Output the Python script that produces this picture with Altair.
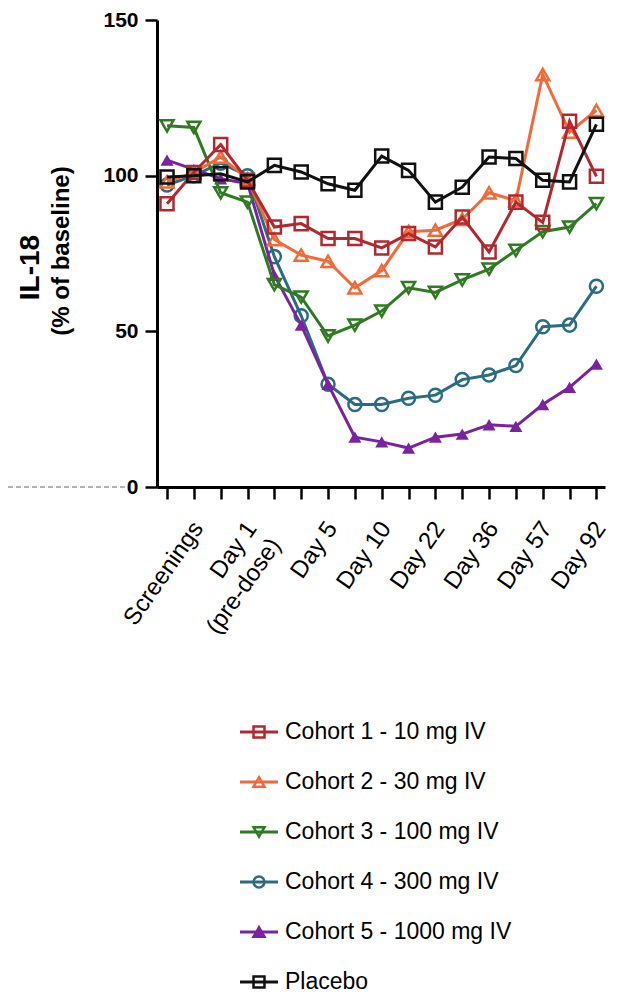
import altair as alt
import pandas as pd

# ---- data ----
timepoints = list(range(1, 18))
series_names = ["Cohort 1 - 10 mg IV", "Cohort 2 - 30 mg IV", "Cohort 3 - 100 mg IV",
                "Cohort 4 - 300 mg IV", "Cohort 5 - 1000 mg IV", "Placebo"]
cohort1 = [91, 101, 110, 98.5, 83.5, 84.6, 79.8, 79.8, 76.8, 81.4, 77.1, 86.7, 75.5, 91.5, 85, 117.5, 99.8]
cohort2 = [98, 101, 106, 99, 79.5, 74.5, 72.5, 64, 69.5, 82, 82.5, 86, 94.5, 92, 132.5, 114, 121]
cohort3 = [116, 115.5, 94.5, 91.5, 65, 61, 48.5, 52, 56.5, 64, 62.5, 66.5, 70, 76, 82, 83.5, 91]
cohort4 = [97, 100, 104, 100, 74, 55, 33, 26.5, 26.5, 28.5, 29.5, 34.5, 36, 39, 51.5, 52, 64.5]
cohort5 = [105, 102, 99, 97.5, 68, 52, 33, 16, 14.5, 12.5, 16, 17, 20, 19.5, 26.5, 32, 39.5]
placebo = [99.6, 100, 100.6, 98, 103.3, 101.2, 97.4, 95.3, 106.3, 101.7, 91.5, 96.3, 106, 105.5, 98.5, 98, 116.5]
all_values = [cohort1, cohort2, cohort3, cohort4, cohort5, placebo]

x_label_ticks = [2, 4, 7, 9, 11, 13, 15, 17]
x_labels = ["Screenings", "Day 1|(pre-dose)", "Day 5", "Day 10", "Day 22", "Day 36", "Day 57", "Day 92"]
y_ticks = [0, 50, 100, 150]

# ---- styles ----
colors = ["#B3272E", "#F26A38", "#2F7B22", "#2A6C84", "#7A22A0", "#111111"]
shapes = ["square", "triangle-up", "triangle-down", "circle", "triangle-up", "square"]
filled = [False, False, False, False, True, False]
fills = ["transparent", "transparent", "transparent", "transparent", "#7A22A0", "transparent"]
draw_order = [3, 4, 2, 1, 0, 5]

W, H = 448, 467
FONT = "Liberation Sans"

rows = []
for name, vals in zip(series_names, all_values):
    for t, v in zip(timepoints, vals):
        rows.append({"series": name, "t": t, "value": v})
df = pd.DataFrame(rows)

label_expr = "''"
for idx, lab in reversed(list(zip(x_label_ticks, x_labels))):
    label_expr = f"datum.value == {idx} ? split('{lab}', '|') : {label_expr}"

x_enc = alt.X("t:Q",
              scale=alt.Scale(domain=[0.627, 17.32], nice=False, zero=False),
              axis=alt.Axis(values=timepoints, labelExpr=label_expr, title=None,
                            labelAngle=-55, labelAlign="right", labelBaseline="middle",
                            labelOffset=4, labelPadding=25, labelOverlap=False,
                            labelFlush=False, labelBound=False, labelFontSize=24,
                            labelFont=FONT, labelLineHeight=29))
y_enc = alt.Y("value:Q",
              scale=alt.Scale(domain=[0, 150], nice=False, zero=True),
              axis=alt.Axis(values=y_ticks, title="IL-18", titleFontSize=28,
                            titleFontWeight="bold", titleFont=FONT, titleX=-127, titleY=247,
                            titleBaseline="middle", titleAngle=270,
                            labelFontSize=21, labelFontWeight="bold", labelFont=FONT,
                            labelPadding=7))

layers = []
for i in draw_order:
    name = series_names[i]
    base = alt.Chart(df).transform_filter(alt.datum.series == name)
    layers.append(base.mark_line(color=colors[i], strokeWidth=3).encode(x=x_enc, y=y_enc))
    layers.append(base.mark_point(shape=shapes[i], filled=filled[i], color=colors[i],
                                  fill=fills[i], size=170, strokeWidth=2.5, opacity=1)
                  .encode(x=x_enc, y=y_enc))

dummy = pd.DataFrame({"sub": ["(% of baseline)"]})
subtitle = alt.Chart(dummy).mark_text(angle=270, fontSize=24, fontWeight="bold", font=FONT,
                                      align="center", baseline="middle", color="black").encode(
    text="sub:N", x=alt.value(-95), y=alt.value(231))
dash = alt.Chart(dummy).mark_rule(strokeDash=[5, 3], color="#9a9a9a", strokeWidth=1.5).encode(
    x=alt.value(-149), x2=alt.value(-30), y=alt.value(H))

main = alt.layer(dash, *layers, subtitle)

# ---- manual legend (line + marker + label) ----
leg_df = pd.DataFrame({"series": series_names})
leg_y = alt.Y("series:N", sort=series_names,
              scale=alt.Scale(type="point", domain=series_names, range=[712, 962], padding=0),
              axis=None)
leg_color = alt.Color("series:N", scale=alt.Scale(domain=series_names, range=colors), legend=None)
leg_shape = alt.Shape("series:N", scale=alt.Scale(domain=series_names, range=shapes), legend=None)
leg_fill = alt.Fill("series:N", scale=alt.Scale(domain=series_names, range=fills), legend=None)
leg_base = alt.Chart(leg_df)
leg_rule = leg_base.mark_rule(strokeWidth=3).encode(
    x=alt.value(83), x2=alt.value(121), y=leg_y, color=leg_color)
leg_pt = leg_base.mark_point(size=120, strokeWidth=2.5, opacity=1).encode(
    x=alt.value(102), y=leg_y, color=leg_color, shape=leg_shape, fill=leg_fill)
leg_txt = leg_base.mark_text(align="left", baseline="middle", fontSize=23, font=FONT,
                             color="black").encode(x=alt.value(128), y=leg_y, text="series:N")
legend = alt.layer(leg_rule, leg_pt, leg_txt)

chart = alt.layer(main, legend).resolve_scale(
    y="independent", color="independent", shape="independent", fill="independent"
).properties(
    width=W, height=H,
    autosize=alt.AutoSizeParams(type="none"),
    padding={"left": 149, "top": 12, "right": 6, "bottom": 510}
).configure_view(stroke=None).configure_axis(
    domainColor="black", domainWidth=3, tickColor="black", tickWidth=2.5, tickSize=12,
    labelColor="black", titleColor="black", grid=False
)

chart.save("out.html", embed_options={"renderer": "svg", "actions": False})
